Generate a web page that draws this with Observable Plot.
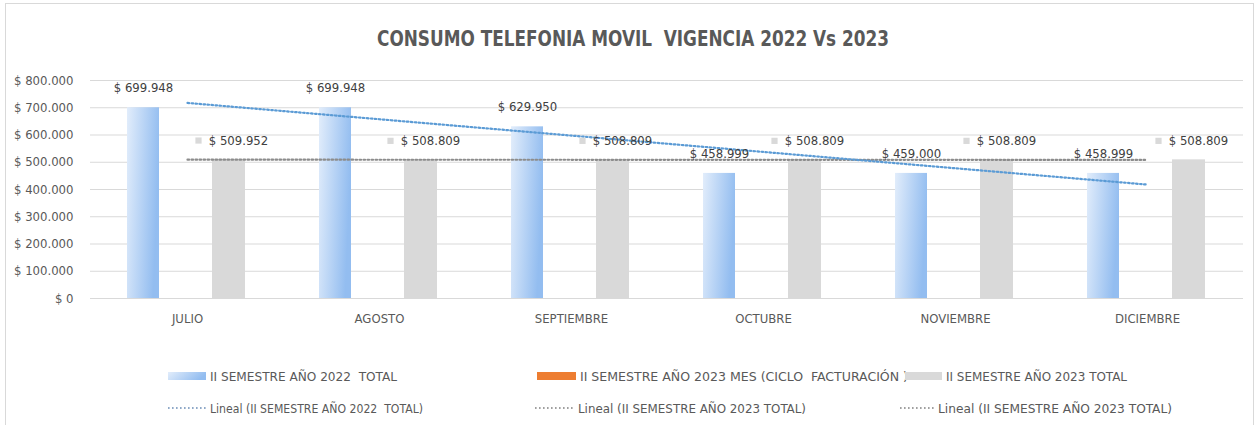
<!DOCTYPE html>
<html><head><meta charset="utf-8">
<script src="https://cdn.jsdelivr.net/npm/d3@7"></script>
<script src="https://cdn.jsdelivr.net/npm/@observablehq/plot@0.6"></script>
<style>
body{margin:0;background:#fff;}
#chart{position:relative;width:1260px;height:425px;overflow:hidden;font-family:"Liberation Sans Narrow","DejaVu Sans Condensed",Roboto,sans-serif;}
#frame{position:absolute;left:5px;top:3px;width:1249px;height:450px;border:1px solid #d9d9d9;box-sizing:border-box;}
#chart svg{display:block;}
svg text{white-space:pre;}
</style></head><body>
<div id="chart"><div id="frame"></div><svg id="title" width="1260" height="60"></svg><div id="plot"></div><svg id="legend" width="1260" height="85"></svg></div>
<script>
const months = ["JULIO", "AGOSTO", "SEPTIEMBRE", "OCTUBRE", "NOVIEMBRE", "DICIEMBRE"];
const total2022 = [699948, 699948, 629950, 458999, 459000, 458999];
const total2023 = [509952, 508809, 508809, 508809, 508809, 508809];
const yTicks = [0, 100000, 200000, 300000, 400000, 500000, 600000, 700000, 800000];
const titleText = "CONSUMO TELEFONIA MOVIL  VIGENCIA 2022 Vs 2023";
const legendRow1 = ["II SEMESTRE AÑO 2022  TOTAL", "II SEMESTRE AÑO 2023 MES (CICLO  FACTURACIÓN )", "II SEMESTRE AÑO 2023 TOTAL"];
const legendRow2 = ["Lineal (II SEMESTRE AÑO 2022  TOTAL)", "Lineal (II SEMESTRE AÑO 2023 TOTAL)", "Lineal (II SEMESTRE AÑO 2023 TOTAL)"];

const FONT = '"Liberation Sans Narrow","DejaVu Sans Condensed",Roboto,sans-serif';
const DOTS = "1.6,2.4";
const money = v => "$ " + d3.format(",")(v).replace(/,/g, ".");

// least-squares linear trend (Excel "Lineal")
function linfit(vals) {
  const xs = vals.map((_, i) => i + 1);
  const mx = d3.mean(xs), my = d3.mean(vals);
  const sxy = d3.sum(xs, (x, i) => (x - mx) * (vals[i] - my));
  const sxx = d3.sum(xs, x => (x - mx) ** 2);
  const b = sxy / sxx;
  return xs.map(x => my + b * (x - mx));
}
const fit22 = linfit(total2022), fit23 = linfit(total2023);
const rows22 = months.map((m, i) => ({month: m, value: total2022[i], fit: fit22[i]}));
const rows23 = months.map((m, i) => ({month: m, value: total2023[i], fit: fit23[i]}));

function addGradient(svgSel, id) {
  const g = svgSel.insert("defs", ":first-child").append("linearGradient")
    .attr("id", id).attr("x1", 0).attr("y1", 0).attr("x2", 1).attr("y2", 0.25);
  g.append("stop").attr("offset", "0%").attr("stop-color", "#e2edfb");
  g.append("stop").attr("offset", "100%").attr("stop-color", "#93bdf0");
}

// title
d3.select("#title").append("text")
  .attr("x", 633).attr("y", 38).attr("text-anchor", "middle").attr("dominant-baseline", "central")
  .attr("font-family", FONT).attr("font-weight", "bold").attr("font-size", 22).attr("fill", "#595959")
  .attr("textLength", 512).attr("lengthAdjust", "spacingAndGlyphs").text(titleText);

const plot = Plot.plot({
  width: 1260, height: 280,
  marginLeft: 90, marginRight: 17, marginTop: 20, marginBottom: 42,
  style: {fontFamily: FONT, fontSize: "13px", color: "#595959", background: "transparent"},
  x: {domain: months, padding: 0, label: null, tickSize: 0, tickPadding: 15},
  y: {domain: [0, 800000], ticks: yTicks, tickFormat: money, label: null, tickSize: 0, tickPadding: 17},
  marks: [
    Plot.gridY(yTicks, {stroke: "#d9d9d9", strokeOpacity: 1}),
    Plot.barY(rows22, {x: "month", y: "value", fill: "url(#g2022)", insetLeft: 36, insetRight: 124}),
    Plot.barY(rows23, {x: "month", y: "value", fill: "#d9d9d9", insetLeft: 121, insetRight: 38}),
    Plot.line(rows23, {x: "month", y: "fit", stroke: "#8c8c8c", strokeWidth: 2.2, strokeDasharray: DOTS}),
    Plot.line(rows22, {x: "month", y: "fit", stroke: "#5b9bd5", strokeWidth: 2.2, strokeDasharray: DOTS}),
    Plot.text(rows22, {x: "month", y: "value", text: d => money(d.value), dx: -44, dy: -20, fill: "#404040"}),
    Plot.dot(rows23, {x: "month", y: "value", symbol: "square", r: 3.5, fill: "#d9d9d9", stroke: null, dx: 11, dy: -19}),
    Plot.text(rows23, {x: "month", y: "value", text: d => money(d.value), dx: 51, dy: -19, fill: "#404040"})
  ]
});
addGradient(d3.select(plot), "g2022");
document.getElementById("plot").appendChild(plot);

// legend
const lg = d3.select("#legend");
addGradient(lg, "g2022l");
const row1 = [
  {sx: 168, sw: 38, tx: 210, tw: 187, fill: "url(#g2022l)"},
  {sx: 537, sw: 39, tx: 580, tw: 328, fill: "#ed7d31"},
  {sx: 905, sw: 37, tx: 946, tw: 181, fill: "#d9d9d9"}
];
const row2 = [
  {sx: 168, sw: 38, tx: 210, tw: 213, stroke: "#8fa9c8"},
  {sx: 535, sw: 40, tx: 578, tw: 228, stroke: "#a0a0a0"},
  {sx: 900, sw: 35, tx: 938, tw: 234, stroke: "#a0a0a0"}
];
const y1 = 36, y2 = 68;
row1.forEach((r, i) => {
  lg.append("rect").attr("x", r.sx).attr("y", y1 - 4).attr("width", r.sw).attr("height", 8).attr("fill", r.fill);
  lg.append("text").attr("x", r.tx).attr("y", y1).attr("dominant-baseline", "central")
    .attr("font-family", FONT).attr("font-size", 13).attr("fill", "#595959")
    .attr("textLength", r.tw).attr("lengthAdjust", "spacingAndGlyphs").text(legendRow1[i]);
});
row2.forEach((r, i) => {
  lg.append("line").attr("x1", r.sx).attr("x2", r.sx + r.sw).attr("y1", y2).attr("y2", y2)
    .attr("stroke", r.stroke).attr("stroke-width", 2).attr("stroke-dasharray", DOTS);
  lg.append("text").attr("x", r.tx).attr("y", y2).attr("dominant-baseline", "central")
    .attr("font-family", FONT).attr("font-size", 13).attr("fill", "#595959")
    .attr("textLength", r.tw).attr("lengthAdjust", "spacingAndGlyphs").text(legendRow2[i]);
});
</script>
</body></html>
